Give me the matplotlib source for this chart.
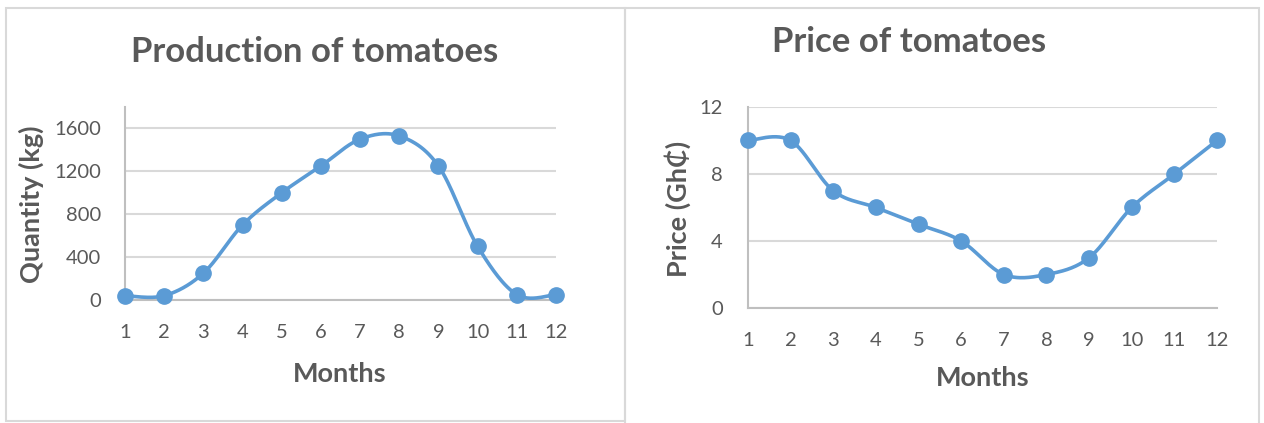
import matplotlib
matplotlib.use("Agg")
import matplotlib.pyplot as plt
from matplotlib.patches import Rectangle
import numpy as np

# data
months = list(range(1, 13))
quantity = [40, 40, 250, 700, 1000, 1250, 1500, 1530, 1250, 500, 50, 50]
price = [10, 10, 7, 6, 5, 4, 2, 2, 3, 6, 8, 10]

qty_ticks = [0, 400, 800, 1200, 1600]
price_ticks = [0, 4, 8, 12]

plt.rcParams['font.family'] = ['Lato', 'DejaVu Sans']

BLUE = '#5B9BD5'
TXT = '#595959'
GRID = '#D9D9D9'


# excel-like smoothed line (catmull-rom through the points)
def smooth(x, y, n=30):
    x = np.asarray(x, float)
    y = np.asarray(y, float)
    px = np.concatenate([[x[0]], x, [x[-1]]])
    py = np.concatenate([[y[0]], y, [y[-1]]])
    xs, ys = [], []
    t = np.linspace(0, 1, n)
    for i in range(1, len(px) - 2):
        p0, p1, p2, p3 = px[i-1], px[i], px[i+1], px[i+2]
        q0, q1, q2, q3 = py[i-1], py[i], py[i+1], py[i+2]
        # bezier control points
        c1x, c1y = p1 + (p2 - p0) / 6, q1 + (q2 - q0) / 6
        c2x, c2y = p2 - (p3 - p1) / 6, q2 - (q3 - q1) / 6
        bx = (1-t)**3*p1 + 3*(1-t)**2*t*c1x + 3*(1-t)*t**2*c2x + t**3*p2
        by = (1-t)**3*q1 + 3*(1-t)**2*t*c1y + 3*(1-t)*t**2*c2y + t**3*q2
        xs.extend(bx)
        ys.extend(by)
    return xs, ys


def style_axes(ax, ticks, ylim, ypad, xpad):
    ax.set_xlim(1, 12)
    ax.set_ylim(*ylim)
    ax.set_xticks(months)
    ax.set_yticks(ticks)
    ax.grid(axis='y', color=GRID, lw=1.5)
    ax.set_axisbelow(True)
    for s in ['top', 'right']:
        ax.spines[s].set_visible(False)
    ax.spines['left'].set_color('#BFBFBF')
    ax.spines['bottom'].set_color('#BFBFBF')
    ax.spines['left'].set_linewidth(1.5)
    ax.spines['bottom'].set_linewidth(1.5)
    ax.tick_params(axis='both', length=0, labelsize=14.5, colors=TXT)
    ax.tick_params(axis='y', pad=ypad)
    ax.tick_params(axis='x', pad=xpad)


fig = plt.figure(figsize=(12.64, 4.23), dpi=100)
W, H = 1264, 423

# chart borders
fig.patches.append(Rectangle((6 / W, 1 - 421 / H), 619 / W, 413 / H, transform=fig.transFigure,
                             fill=False, ec='#D9D9D9', lw=1.5))
fig.patches.append(Rectangle((625 / W, -0.01), 634 / W, 1 - 8 / H + 0.01, transform=fig.transFigure,
                             fill=False, ec='#D9D9D9', lw=1.5))

# left chart
ax1 = fig.add_axes([125 / W, 1 - 300 / H, 431 / W, 193 / H])
sx, sy = smooth(months, quantity)
ax1.plot(sx, sy, color=BLUE, lw=2.6, clip_on=False, zorder=3)
ax1.plot(months, quantity, 'o', color=BLUE, ms=11, clip_on=False, zorder=4)
style_axes(ax1, qty_ticks, (0, 1800), 17, 17)
fig.text(315 / W, 1 - 52 / H, 'Production of tomatoes', ha='center', va='center',
         fontsize=25, fontweight='bold', color=TXT)
fig.text(340 / W, 1 - 374 / H, 'Months', ha='center', va='center',
         fontsize=19.5, fontweight='bold', color=TXT)
fig.text(31 / W, 1 - 204 / H, 'Quantity (kg)', ha='center', va='center', rotation=90,
         fontsize=19.5, fontweight='bold', color=TXT)

# right chart
ax2 = fig.add_axes([748 / W, 1 - 308 / H, 469 / W, 201 / H])
sx, sy = smooth(months, price)
ax2.plot(sx, sy, color=BLUE, lw=2.6, clip_on=False, zorder=3)
ax2.plot(months, price, 'o', color=BLUE, ms=11, clip_on=False, zorder=4)
style_axes(ax2, price_ticks, (0, 12), 18, 17)
fig.text(909 / W, 1 - 42 / H, 'Price of tomatoes', ha='center', va='center',
         fontsize=25, fontweight='bold', color=TXT)
fig.text(983 / W, 1 - 378 / H, 'Months', ha='center', va='center',
         fontsize=19.5, fontweight='bold', color=TXT)
fig.text(678 / W, 1 - 209 / H, 'Price (Gh\u20b5)', ha='center', va='center', rotation=90,
         fontsize=19.5, fontweight='bold', color=TXT)

fig.savefig('out.png', dpi=100, facecolor='white')
